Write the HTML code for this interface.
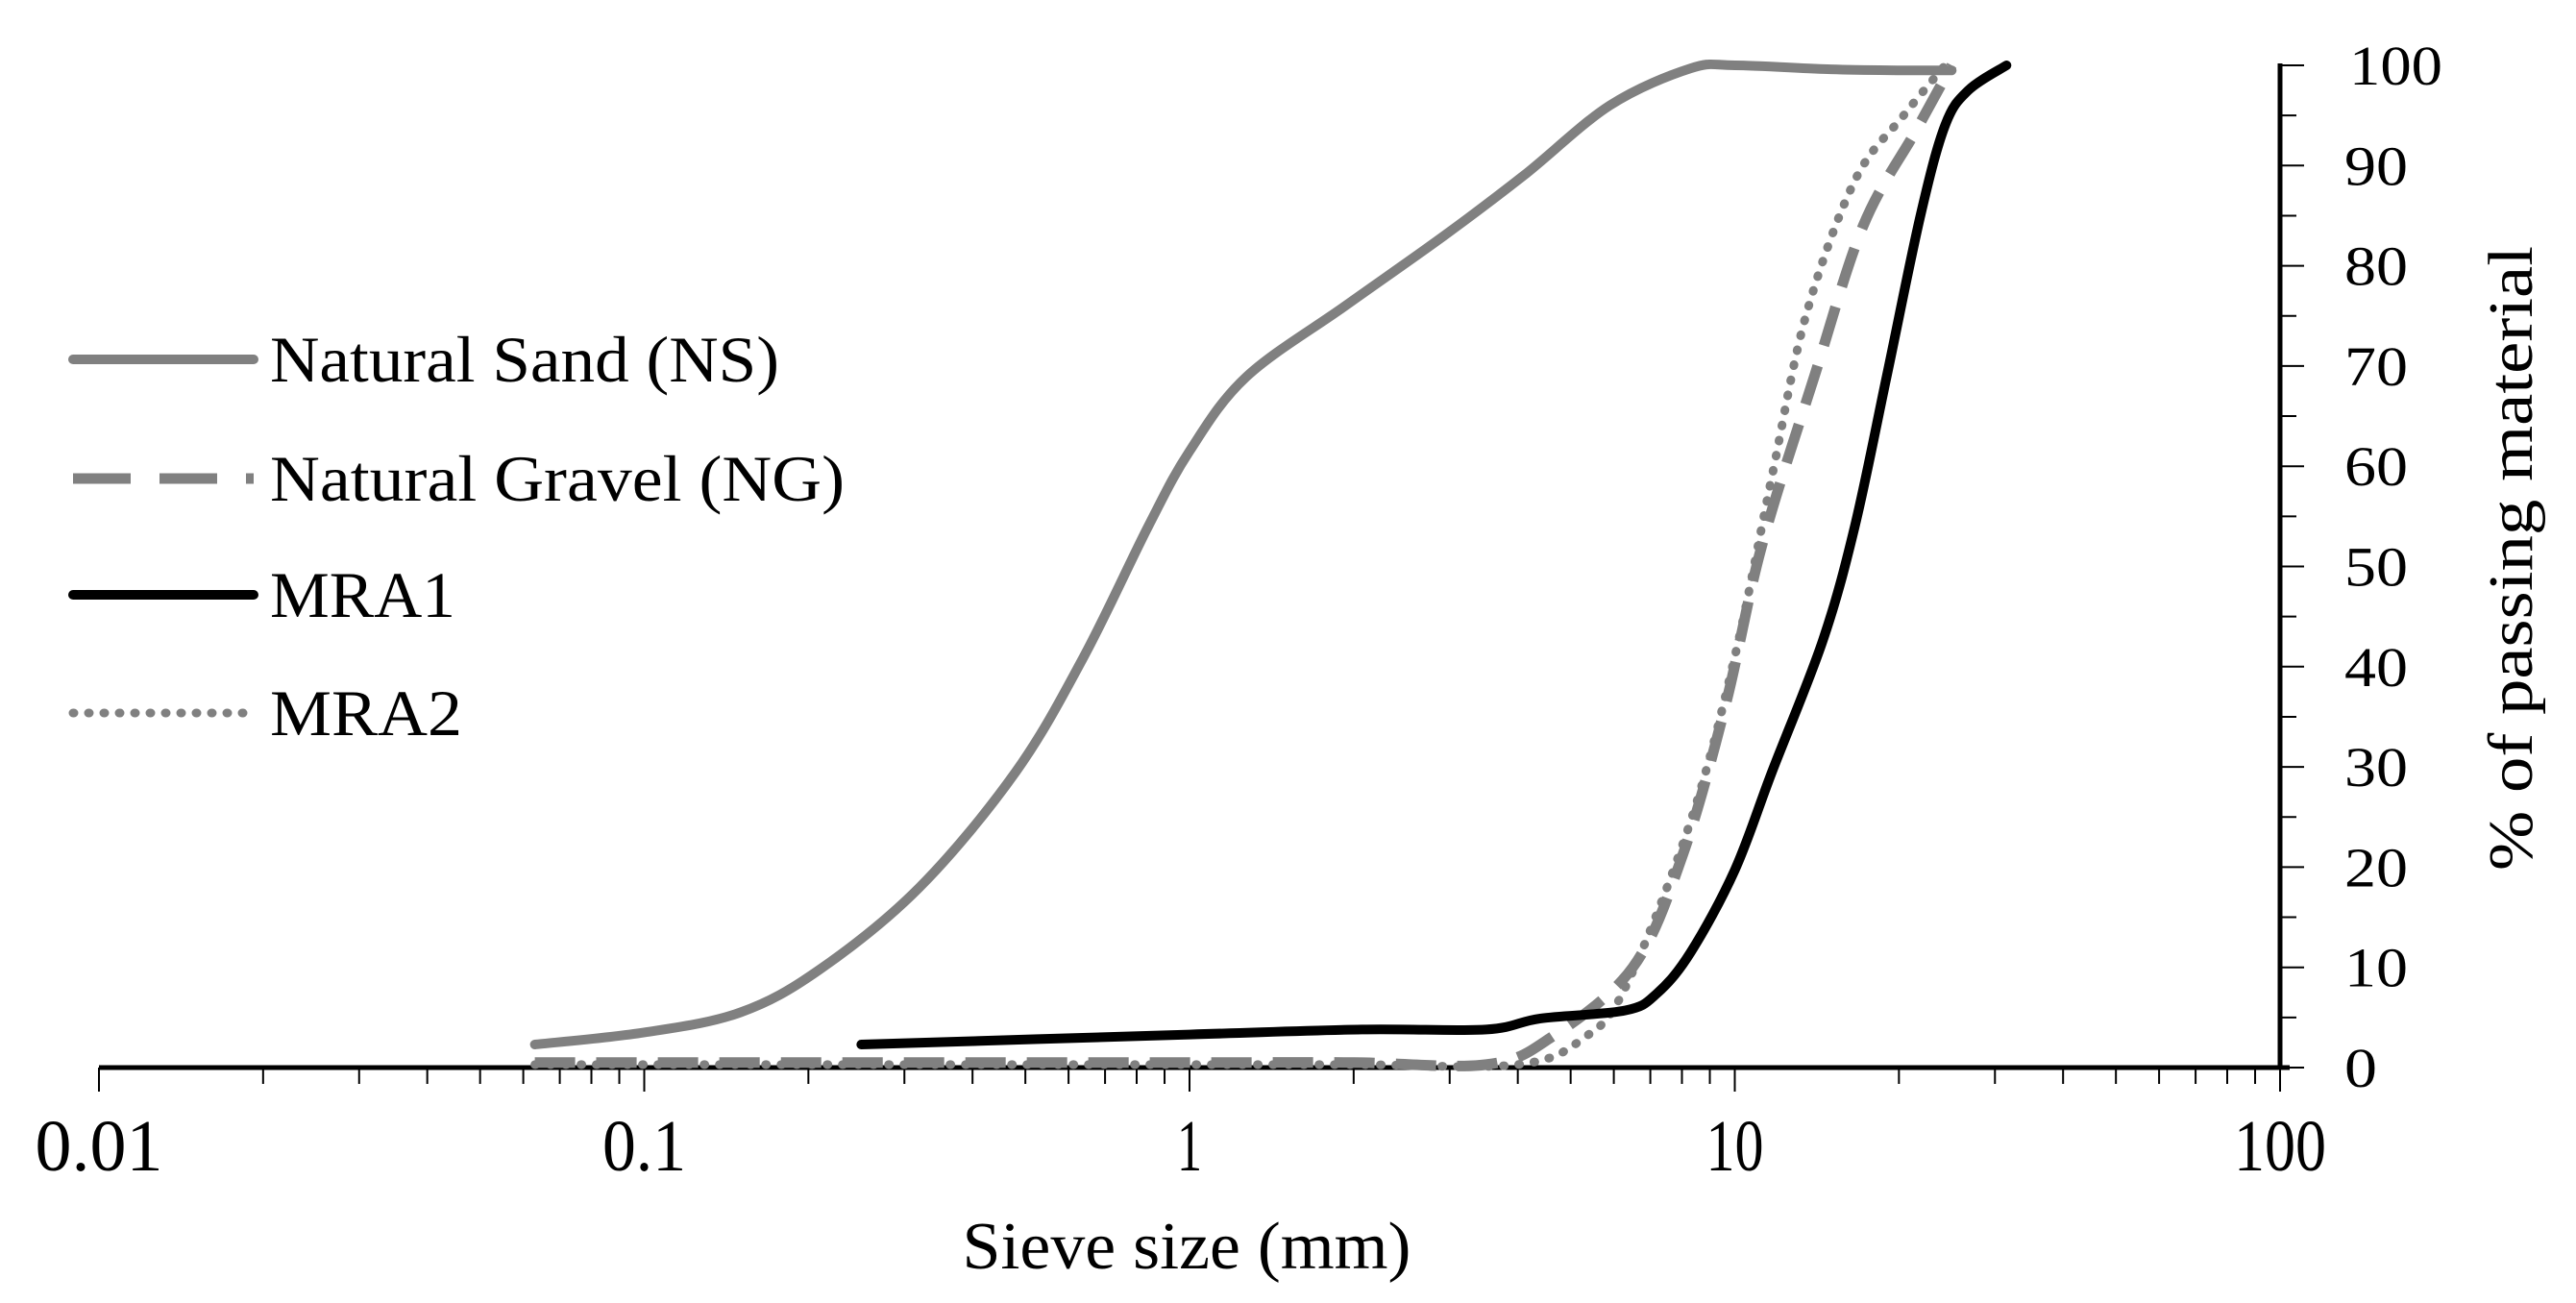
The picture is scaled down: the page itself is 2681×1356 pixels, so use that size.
<!DOCTYPE html>
<html><head><meta charset="utf-8">
<style>
html,body{margin:0;padding:0;background:#fff;}
svg{display:block;font-family:"Liberation Serif",serif;}
</style></head>
<body>
<svg id="chart" width="2681" height="1356" viewBox="0 0 2681 1356" xmlns="http://www.w3.org/2000/svg">
<g id="axes"></g>
<g id="series"></g>
<g id="legend"></g>
</svg>
<script>
const xTickLabels = ["0.01","0.1","1","10","100"];
const yTickLabels = ["0","10","20","30","40","50","60","70","80","90","100"];
const nsX = [0.063,0.1,0.15,0.21,0.32,0.48,0.64,0.84,1,1.27,1.93,2.93,4.1,5.9,8.3,10,15,20,25];
const nsY = [2.3,3.5,5.5,9.8,18,29.5,41,54,61.5,68.9,76,83,89,96,99.7,100,99.6,99.5,99.5];
const ngX = [0.063,0.2,0.5,1,2,3.5,4.6,6.5,8,9.6,11.2,14,17.2,21.5,25];
const ngY = [0.5,0.5,0.5,0.5,0.5,0.3,3,10,21,36,52,69,84,93.5,100];
const mra2X = [0.063,0.2,0.5,1,2,4,5.3,6.3,8.3,10,11.7,13.5,16.6,20.4,24.3];
const mra2Y = [0.3,0.3,0.3,0.3,0.3,0.3,3,8,24.6,41,59,75,88.5,95,100];
const mra1X = [0.25,1,2.07,3.5,4.4,6.3,7.2,8.3,10,11.7,14.5,16.6,19,21.9,24.3,26.8,31.5];
const mra1Y = [2.3,3.3,3.8,3.8,4.9,5.7,7.4,11.5,19.7,29.5,42.6,54,69,85,94,97.5,100];

const NS='http://www.w3.org/2000/svg';
const X0=103, XD=567.5, Y0=1111, YH=1043, XR=2373;
function xs(v){return X0+(Math.log10(v)+2)*XD;}
function ys(v){return Y0-v/100*YH;}
function mk(tag,attrs,parent){const e=document.createElementNS(NS,tag);for(const k in attrs)e.setAttribute(k,attrs[k]);parent.appendChild(e);return e;}
const axes=document.getElementById('axes');
const ser=document.getElementById('series');
const leg=document.getElementById('legend');

let a=mk('line',{x1:X0,y1:Y0,x2:XR+10,y2:Y0,stroke:'#000','stroke-width':5},axes);


a=mk('line',{x1:XR,y1:ys(100)-2,x2:XR,y2:Y0+2,stroke:'#000','stroke-width':5},axes);


for(let d=-2;d<2;d++){for(let m=1;m<=10;m++){
  if(m===10&&d<1)continue;
  const v=m*Math.pow(10,d);const x=xs(v);
  const t=mk('line',{x1:x,y1:Y0,x2:x,y2:Y0+(m===1||m===10?25:17),stroke:'#000','stroke-width':2},axes);
  
  
}}
{const x=xs(100);const t=mk('line',{x1:x,y1:Y0,x2:x,y2:Y0+25,stroke:'#000','stroke-width':2},axes);

}
xTickLabels.forEach(s=>{
  const w=s.length===1?26:s.length===2?60:s.length===3?(s==='0.1'?87:96):133;
  const t=mk('text',{x:xs(parseFloat(s)),y:1218,'text-anchor':'middle','font-size':76,fill:'#000',textLength:w,lengthAdjust:'spacingAndGlyphs'},axes);
  t.textContent=s;
  
  
});
for(let v=0;v<=100;v+=5){
  const t=mk('line',{x1:XR,y1:ys(v),x2:XR+(v%10===0?25:17),y2:ys(v),stroke:'#000','stroke-width':2},axes);
  
  
}
yTickLabels.forEach(s=>{
  const w=s.length===1?34:s.length===2?66:97;
  const t=mk('text',{x:s.length===3?2445:2440,y:ys(parseFloat(s))+20,'text-anchor':'start','font-size':58,fill:'#000',textLength:w,lengthAdjust:'spacingAndGlyphs'},axes);
  t.textContent=s;
  
  
});
let tt=mk('text',{x:1235,y:1320,'text-anchor':'middle','font-size':70,fill:'#000',textLength:467,lengthAdjust:'spacingAndGlyphs'},axes);
tt.textContent='Sieve size (mm)';


tt=mk('text',{x:0,y:0,'text-anchor':'middle','font-size':66,fill:'#000',textLength:650,lengthAdjust:'spacingAndGlyphs',transform:'translate(2635,581) rotate(-90)'},axes);
tt.textContent='% of passing  material';



function pathFrom(X,Y){
  const p=X.map((x,i)=>[xs(x),ys(Y[i])]);
  let d='M'+p[0][0]+','+p[0][1];
  for(let i=0;i<p.length-1;i++){
    const p0=p[i-1]||p[i],p1=p[i],p2=p[i+1],p3=p[i+2]||p2;
    const c1=[p1[0]+(p2[0]-p0[0])/6,p1[1]+(p2[1]-p0[1])/6];
    const c2=[p2[0]-(p3[0]-p1[0])/6,p2[1]-(p3[1]-p1[1])/6];
    d+=' C'+c1[0]+','+c1[1]+' '+c2[0]+','+c2[1]+' '+p2[0]+','+p2[1];
  }
  return d;
}
const styles={
  ns:{stroke:'#808080','stroke-width':10,fill:'none','stroke-linecap':'round'},
  ng:{stroke:'#808080','stroke-width':11,fill:'none','stroke-dasharray':'42 22'},
  mra1:{stroke:'#000','stroke-width':10,fill:'none','stroke-linecap':'round'},
  mra2:{stroke:'#808080','stroke-width':9,fill:'none','stroke-dasharray':'1 15','stroke-linecap':'round'}
};
let s=mk('path',Object.assign({d:pathFrom(nsX,nsY)},styles.ns),ser);


s=mk('path',Object.assign({d:pathFrom(ngX,ngY)},styles.ng),ser);


s=mk('path',Object.assign({d:pathFrom(mra2X,mra2Y)},styles.mra2),ser);


s=mk('path',Object.assign({d:pathFrom(mra1X,mra1Y)},styles.mra1),ser);



const legendNames=['Natural Sand (NS)','Natural Gravel (NG)','MRA1','MRA2'];
const legendKeys=['ns','ng','mra1','mra2'];
const legendY=[374,498,619,742];
const legendW=[530,598,193,200];
legendNames.forEach((n,i)=>{
  const g=mk('g',{},leg);
  
  
  const st=Object.assign({},styles[legendKeys[i]]);
  if(legendKeys[i]==='ng')st['stroke-dasharray']='60 30';
  mk('line',Object.assign({x1:76,y1:legendY[i],x2:264,y2:legendY[i]},st),g);
  const t=mk('text',{x:281,y:legendY[i]+23,'font-size':68,fill:'#000',textLength:legendW[i],lengthAdjust:'spacingAndGlyphs'},g);
  t.textContent=n;
});
</script>
</body></html>
